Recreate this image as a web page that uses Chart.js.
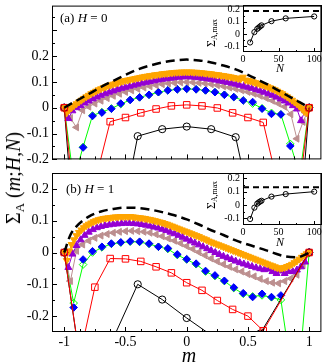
<!DOCTYPE html>
<html>
<head>
<meta charset="utf-8">
<script src="https://cdn.jsdelivr.net/npm/chart.js@4.4.0/dist/chart.umd.min.js"></script>
<style>
body { margin: 0; background: #fff; }
#wrap { position: relative; width: 327px; height: 362px; overflow: hidden; font-family: 'Liberation Serif', 'Times New Roman', serif; color: #000; }
canvas { position: absolute; }
.txt { position: absolute; white-space: nowrap; line-height: 1; }
.rot { transform: translate(-50%, -50%) rotate(-90deg); }
.sub { font-size: 0.65em; position: relative; top: 0.3em; }
</style>
</head>
<body>
<div id="wrap">
  <canvas id="mainA" width="327" height="165" style="left:0;top:0"></canvas>
  <canvas id="mainB" width="327" height="197" style="left:0;top:165px"></canvas>
  <canvas id="insetA" width="127" height="80" style="left:200px;top:0"></canvas>
  <canvas id="insetB" width="127" height="80" style="left:200px;top:168px"></canvas>

  <div class="txt" style="left:60px;top:11px;font-size:13px">(a) <i>H</i> = 0</div>
  <div class="txt" style="left:66px;top:182px;font-size:13px">(b) <i>H</i> = 1</div>
  <div class="txt rot" style="left:13px;top:178px;font-size:20px">&Sigma;<span class="sub">A</span> (<i>m</i>;<i>H</i>,<i>N</i>)</div>
  <div class="txt" style="left:189px;top:355px;font-size:20px;transform:translate(-50%,-50%)"><i>m</i></div>
  <div class="txt" style="left:280px;top:68px;font-size:12px;transform:translate(-50%,-50%)"><i>N</i></div>
  <div class="txt" style="left:280px;top:242px;font-size:12px;transform:translate(-50%,-50%)"><i>N</i></div>
  <div class="txt rot" style="left:211px;top:33px;font-size:12px">&Sigma;<span class="sub">A,max</span></div>
  <div class="txt rot" style="left:211px;top:195px;font-size:12px">&Sigma;<span class="sub">A,max</span></div>
</div>

<script>
// ticks
const mTicks = [-1, -0.5, 0, 0.5, 1];
const mMinor = [-0.875, -0.75, -0.625, -0.375, -0.25, -0.125, 0.125, 0.25, 0.375, 0.625, 0.75, 0.875];
const yTicksA = [-0.2, -0.1, 0, 0.1, 0.2];
const yMajorA = [-0.2, -0.1, 0, 0.1, 0.2, 0.3];
const yMinorA = [-0.15, -0.05, 0.05, 0.15, 0.25, 0.35];
const yTicksB = [-0.2, -0.1, 0, 0.1, 0.2];
const yMinorB = [-0.15, -0.05, 0.05, 0.15];
const insetXTicks = [0, 50, 100];
const insetXMinor = [25, 75];
const insetYTicks = [-0.1, 0, 0.1, 0.2];
const insetYMinor = [-0.05, 0.05, 0.15];

// insets: max of Sigma_A versus N
const sizesN = [10, 16, 20, 22, 24, 26, 40, 60, 100];
const sigmaMaxA = [-0.071, 0.015, 0.042, 0.052, 0.062, 0.071, 0.106, 0.129, 0.145];
const sigmaMaxB = [-0.105, -0.02, 0.01, 0.019, 0.026, 0.032, 0.063, 0.082, 0.1];
const limitA = 0.19;
const limitB = 0.133;

// N -> infinity curve (dashed)
const dashM = [-1, -0.95, -0.9, -0.8, -0.7, -0.6, -0.5, -0.4, -0.3, -0.2, -0.1, 0, 0.1, 0.2, 0.3, 0.4, 0.5, 0.6, 0.7, 0.8, 0.9, 0.95, 1];
const dashA = [0, 0.014, 0.027, 0.053, 0.08, 0.104, 0.127, 0.148, 0.163, 0.175, 0.183, 0.186, 0.183, 0.175, 0.163, 0.148, 0.127, 0.104, 0.08, 0.053, 0.027, 0.014, 0];
const dashB = [0, 0.055, 0.082, 0.113, 0.129, 0.137, 0.141, 0.14, 0.135, 0.127, 0.117, 0.104, 0.088, 0.07, 0.055, 0.038, 0.025, 0.013, 0, -0.012, -0.015, -0.01, 0];

// panel (a), H = 0
const n10A = [0, -1.2, -0.6, -0.11, -0.083, -0.073, -0.083, -0.114, -0.55, -1.2, 0];
const n16A = [0, -0.57, -0.29, -0.054, -0.038, -0.02, -0.005, 0.007, 0.011, 0.007, -0.001, -0.02, -0.038, -0.057, -0.31, -0.5, 0];
const n26A = [0, -0.3, -0.154, -0.032, -0.019, -0.004, 0.016, 0.03, 0.04, 0.05, 0.06, 0.067, 0.071, 0.073, 0.071, 0.067, 0.06, 0.05, 0.041, 0.028, 0.022, -0.004, -0.024, -0.026, -0.148, -0.3, 0];
const n26gA = [0, -0.28, -0.152, -0.03, -0.017, -0.003, 0.014, 0.03, 0.04, 0.05, 0.06, 0.067, 0.071, 0.073, 0.071, 0.067, 0.06, 0.05, 0.041, 0.028, 0.016, -0.002, -0.02, -0.026, -0.14, -0.26, 0];
const n40A = [0, -0.04, -0.076, -0.01, 0.004, 0.016, 0.027, 0.037, 0.046, 0.054,
  0.061, 0.067, 0.073, 0.078, 0.083, 0.087, 0.091, 0.094, 0.096, 0.098,
  0.099, 0.098, 0.096, 0.094, 0.091, 0.087, 0.083, 0.078, 0.073, 0.067,
  0.061, 0.054, 0.046, 0.037, 0.027, 0.016, 0.004, -0.025, -0.12, -0.055, 0];
const n60A = [0, -0.042, -0.012, 0, 0.008, 0.018, 0.026, 0.034, 0.041, 0.048,
  0.054, 0.06, 0.065, 0.07, 0.075, 0.079, 0.083, 0.087, 0.091, 0.095,
  0.098, 0.101, 0.104, 0.107, 0.11, 0.112, 0.114, 0.116, 0.118, 0.119,
  0.12, 0.119, 0.118, 0.116, 0.114, 0.112, 0.11, 0.107, 0.104, 0.101,
  0.098, 0.095, 0.091, 0.087, 0.083, 0.079, 0.075, 0.07, 0.065, 0.06,
  0.054, 0.048, 0.041, 0.034, 0.026, 0.018, 0.008, -0.005, -0.05, -0.012, 0];
const n100A = [0, -0.02, -0.008, 0, 0.008, 0.015, 0.022, 0.029, 0.036, 0.042,
  0.048, 0.054, 0.059, 0.064, 0.069, 0.073, 0.077, 0.081, 0.085, 0.088,
  0.091, 0.094, 0.097, 0.1, 0.103, 0.105, 0.107, 0.109, 0.111, 0.113,
  0.115, 0.117, 0.119, 0.121, 0.122, 0.124, 0.125, 0.127, 0.128, 0.129,
  0.131, 0.132, 0.133, 0.134, 0.135, 0.136, 0.137, 0.137, 0.138, 0.138,
  0.138, 0.138, 0.138, 0.137, 0.137, 0.136, 0.135, 0.134, 0.133, 0.132,
  0.131, 0.129, 0.128, 0.127, 0.125, 0.124, 0.122, 0.121, 0.119, 0.117,
  0.115, 0.113, 0.111, 0.118, 0.107, 0.105, 0.103, 0.1, 0.097, 0.094,
  0.091, 0.088, 0.085, 0.081, 0.077, 0.073, 0.069, 0.064, 0.059, 0.054,
  0.048, 0.042, 0.036, 0.029, 0.022, 0.015, 0.006, -0.003, -0.015, -0.02, 0];

// panel (b), H = 1 (null = no point)
const n10B = [0, -0.53, -0.27, -0.1, -0.148, -0.206, -0.26, -0.45, -0.255, null, 0];
const n16B = [0, -0.33, -0.109, -0.019, -0.02, -0.028, -0.045, -0.064, -0.095, -0.119, -0.151, -0.179, -0.2, -0.246, null, null, 0];
const n26B = [0, -0.173, -0.022, 0.004, 0.018, 0.028, 0.032, 0.035, 0.034, 0.028, 0.018, 0.013, -0.006, -0.021, -0.035, -0.058, -0.072, -0.089, -0.11, -0.128, -0.14, -0.13, -0.14, -0.135, -0.5, -0.5, 0];
const n26gB = [0, -0.159, -0.038, 0, 0.016, 0.027, 0.031, 0.034, 0.033, 0.027, 0.018, 0.011, -0.008, -0.022, -0.037, -0.06, -0.074, -0.09, -0.112, -0.13, -0.138, -0.135, -0.141, -0.149, -0.35, -0.35, 0];
const n40B = [0, -0.09, 0.005, 0.025, 0.037, 0.046, 0.053, 0.058, 0.062, 0.065,
  0.067, 0.068, 0.067, 0.065, 0.062, 0.057, 0.051, 0.044, 0.037, 0.029,
  0.02, 0.011, 0.001, -0.009, -0.019, -0.028, -0.037, -0.045, -0.053, -0.06,
  -0.068, -0.075, -0.083, -0.09, -0.095, -0.097, -0.09, -0.082, -0.07, -0.04, 0];
const n60B = [0, -0.047, -0.005, 0.022, 0.04, 0.054, 0.064, 0.072, 0.078, 0.082,
  0.085, 0.087, 0.089, 0.09, 0.091, 0.092, 0.092, 0.091, 0.09, 0.088,
  0.086, 0.083, 0.08, 0.077, 0.073, 0.069, 0.064, 0.059, 0.054, 0.048,
  0.042, 0.036, 0.03, 0.024, 0.018, 0.012, 0.006, 0, -0.006, -0.012,
  -0.017, -0.022, -0.027, -0.032, -0.036, -0.04, -0.044, -0.048, -0.051, -0.054,
  -0.052, -0.06, -0.066, -0.058, -0.066, -0.06, -0.06, -0.055, -0.045, -0.03, 0];
const n100B = [0, -0.025, 0.005, 0.025, 0.04, 0.053, 0.063, 0.071, 0.078, 0.084,
  0.089, 0.093, 0.097, 0.1, 0.103, 0.105, 0.107, 0.108, 0.109, 0.11,
  0.111, 0.112, 0.112, 0.113, 0.113, 0.113, 0.113, 0.113, 0.112, 0.111,
  0.11, 0.109, 0.108, 0.107, 0.105, 0.104, 0.102, 0.1, 0.098, 0.096,
  0.094, 0.091, 0.089, 0.086, 0.083, 0.08, 0.077, 0.074, 0.071, 0.068,
  0.065, 0.062, 0.059, 0.056, 0.053, 0.05, 0.046, 0.043, 0.04, 0.036,
  0.033, 0.03, 0.027, 0.024, 0.021, 0.018, 0.015, 0.012, 0.009, 0.006,
  0.003, 0, -0.003, -0.006, -0.009, -0.012, -0.015, -0.018, -0.021, -0.024,
  -0.027, -0.03, -0.033, -0.036, -0.039, -0.042, -0.045, -0.048, -0.05, -0.049,
  -0.047, -0.044, -0.041, -0.037, -0.032, -0.027, -0.021, -0.015, -0.009, -0.004, 0];

// m = -1 + 2k/N for k = 0..N
function mGrid(n) {
  return Array.from({length: n + 1}, (_, k) => -1 + 2 * k / n);
}
function pts(xs, ys) {
  return ys.map((v, i) => ({x: xs[i], y: v}));
}

// closed frame + inward ticks like the original plotting program
const frameTicks = {
  id: 'frameTicks',
  afterDatasetsDraw(chart, args, o) {
    const {ctx, chartArea: a, scales: {x, y}} = chart;
    ctx.save();
    ctx.strokeStyle = '#000';
    ctx.lineWidth = 1;
    ctx.beginPath();
    const xt = (vals, len) => vals.forEach(v => {
      const p = Math.round(x.getPixelForValue(v)) + 0.5;
      ctx.moveTo(p, a.bottom); ctx.lineTo(p, a.bottom - len);
    });
    const yt = (vals, len) => vals.forEach(v => {
      const p = Math.round(y.getPixelForValue(v)) + 0.5;
      ctx.moveTo(a.left, p); ctx.lineTo(a.left + len, p);
    });
    xt(o.xMajor, o.major); xt(o.xMinor, o.minor);
    yt(o.yMajor, o.major); yt(o.yMinor, o.minor);
    ctx.stroke();
    ctx.strokeRect(a.left + 0.5, a.top + 0.5, a.right - a.left - 1, a.bottom - a.top - 1);
    ctx.restore();
  }
};

const serif = "'Liberation Serif', 'Times New Roman', serif";
const plain = v => String(v);

function curve(data, color, style, opts) {
  return Object.assign({
    data: data,
    showLine: true,
    borderColor: color,
    borderWidth: 1,
    backgroundColor: 'rgba(0,0,0,0)',
    pointBorderColor: color,
    pointBackgroundColor: 'rgba(0,0,0,0)',
    pointBorderWidth: 1,
    pointStyle: style,
    pointRadius: 3.5,
    tension: 0
  }, opts || {});
}

function mainDatasets(dash, n10, n16, n26, n26g, n40, n60, n100) {
  return [
    {data: pts(dashM, dash), showLine: true, borderColor: '#000', borderWidth: 2.5,
      borderDash: [9, 5], pointRadius: 0, cubicInterpolationMode: 'monotone'},
    curve(pts(mGrid(16), n16), '#ff0000', 'rect', {pointRadius: 4.6, spanGaps: true}),
    curve(pts(mGrid(10), n10), '#000000', 'circle', {pointRadius: 3.6, spanGaps: true}),
    curve(pts(mGrid(100), n100), '#ffa500', 'triangle', {pointRadius: 4, pointRotation: 180,
      pointBackgroundColor: '#ffa500'}),
    curve(pts(mGrid(60), n60), '#9400d3', 'triangle', {pointRadius: 4, pointBackgroundColor: '#9400d3'}),
    curve(pts(mGrid(40), n40), '#bc8f8f', 'triangle', {pointRadius: 4, pointRotation: -90,
      pointBackgroundColor: '#bc8f8f'}),
    curve(pts(mGrid(26), n26), '#0000ff', 'rectRot', {pointRadius: 3.8, showLine: false,
      pointBackgroundColor: '#0000ff'}),
    curve(pts(mGrid(26), n26g), '#00ff00', 'rectRot', {pointRadius: 3.8})
  ];
}

// fixed axis sizes, and no extra room for labels sticking out at the ends
function fixY(w) {
  return s => { s.width = w; s.paddingTop = 0; s.paddingBottom = 0; };
}
function fixX(h) {
  return s => { s.height = h; s.paddingLeft = 0; s.paddingRight = 0; };
}

function mainChart(id, datasets, yMin, yMax, yTicks, yMajor, yMinor, showX, padTop) {
  return new Chart(document.getElementById(id), {
    type: 'scatter',
    data: {datasets: datasets},
    plugins: [frameTicks],
    options: {
      responsive: false,
      animation: false,
      devicePixelRatio: 1,
      layout: {padding: {left: 0, right: 2, top: padTop, bottom: showX ? 0 : 5}},
      plugins: {
        legend: {display: false},
        tooltip: {enabled: false},
        frameTicks: {xMajor: mTicks, xMinor: mMinor, yMajor: yMajor, yMinor: yMinor, major: 5, minor: 3}
      },
      scales: {
        x: {
          type: 'linear', min: -1.1, max: 1.1, display: showX,
          grid: {display: false, drawTicks: false}, border: {display: false},
          ticks: {color: '#000', font: {family: serif, size: 14}, padding: 2, callback: plain},
          afterBuildTicks: s => { s.ticks = mTicks.map(v => ({value: v})); },
          afterFit: fixX(showX ? 30 : 0)
        },
        y: {
          min: yMin, max: yMax,
          grid: {display: false, drawTicks: false}, border: {display: false},
          ticks: {color: '#000', font: {family: serif, size: 14}, padding: 3, callback: plain},
          afterBuildTicks: s => { s.ticks = yTicks.map(v => ({value: v})); },
          afterFit: fixY(52)
        }
      }
    }
  });
}

function insetChart(id, maxVals, limit, padTop, xHeight) {
  return new Chart(document.getElementById(id), {
    type: 'scatter',
    data: {datasets: [
      {data: [{x: 0, y: limit}, {x: 111, y: limit}], showLine: true, borderColor: '#000',
        borderWidth: 2, borderDash: [6, 4], pointRadius: 0},
      {data: pts(sizesN, maxVals), showLine: true, borderColor: '#000', borderWidth: 1,
        pointStyle: 'circle', pointRadius: 2.6, pointBorderWidth: 1, pointBorderColor: '#000',
        pointBackgroundColor: 'rgba(0,0,0,0)'}
    ]},
    plugins: [frameTicks],
    options: {
      responsive: false,
      animation: false,
      devicePixelRatio: 1,
      layout: {padding: {left: 0, right: 2, top: padTop, bottom: 0}},
      plugins: {
        legend: {display: false},
        tooltip: {enabled: false},
        frameTicks: {xMajor: insetXTicks, xMinor: insetXMinor, yMajor: insetYTicks, yMinor: insetYMinor, major: 4, minor: 2}
      },
      scales: {
        x: {
          type: 'linear', min: 0, max: 111,
          grid: {display: false, drawTicks: false}, border: {display: false},
          ticks: {color: '#000', font: {family: serif, size: 10}, padding: 1, callback: plain},
          afterBuildTicks: s => { s.ticks = insetXTicks.map(v => ({value: v})); },
          afterFit: fixX(xHeight)
        },
        y: {
          min: -0.15, max: 0.24,
          grid: {display: false, drawTicks: false}, border: {display: false},
          ticks: {color: '#000', font: {family: serif, size: 10}, padding: 3, callback: plain},
          afterBuildTicks: s => { s.ticks = insetYTicks.map(v => ({value: v})); },
          afterFit: fixY(43)
        }
      }
    }
  });
}

mainChart('mainA', mainDatasets(dashA, n10A, n16A, n26A, n26gA, n40A, n60A, n100A),
  -0.2, 0.395, yTicksA, yMajorA, yMinorA, false, 1);
mainChart('mainB', mainDatasets(dashB, n10B, n16B, n26B, n26gB, n40B, n60B, n100B),
  -0.25, 0.25, yTicksB, yTicksB, yMinorB, true, 8);
insetChart('insetA', sigmaMaxA, limitA, 1, 28);
insetChart('insetB', sigmaMaxB, limitB, 5, 23);
</script>
</body>
</html>
